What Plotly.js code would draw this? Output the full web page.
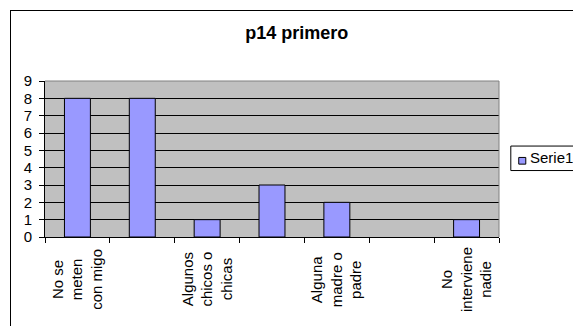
<!DOCTYPE html>
<html>
<head>
<meta charset="utf-8">
<script src="https://cdn.plot.ly/plotly-3.0.1.min.js"></script>
<style>
  html, body { margin: 0; padding: 0; background: #fff; overflow: hidden; }
  #wrap { position: relative; width: 573px; height: 326px; }
  #chart { width: 573px; height: 326px; }
  #frame { position: absolute; left: 10px; top: 10px; width: 620px; height: 400px;
           border: 1px solid #000; pointer-events: none; }
</style>
</head>
<body>
<div id="wrap">
  <div id="chart"></div>
  <div id="frame"></div>
</div>
<script>
const chartTitle = "p14 primero";
const seriesName = "Serie1";
const categories = [
  "No se<br>meten<br>con migo",
  "",
  "Algunos<br>chicos o<br>chicas",
  "",
  "Alguna<br>madre o<br>padre",
  "",
  "No<br>interviene<br>nadie"
];
const values = [8, 8, 1, 3, 2, 0, 1];
const yTicks = [0, 1, 2, 3, 4, 5, 6, 7, 8, 9];

const xPos = categories.map((c, i) => i + 1);
const boundaries = [];
for (let i = 0; i <= categories.length; i++) boundaries.push(i + 0.5);

const font = "Liberation Sans, Arial, sans-serif";
const barColor = "#9999FF";

const trace = {
  type: "bar",
  x: xPos,
  y: values,
  name: seriesName,
  width: 0.4,
  marker: {
    color: barColor,
    line: { color: "#000000", width: values.map(v => (v === 0 ? 0 : 1)) }
  },
  showlegend: false,
  hoverinfo: "none"
};

// plot area: x 45..499 px, y 81..237 px
const annotations = categories
  .map((c, i) => ({ c, i }))
  .filter(o => o.c !== "")
  .map(o => ({
    x: o.i + 1, xref: "x",
    y: -0.272, yref: "paper",
    text: o.c,
    textangle: -90,
    showarrow: false,
    xanchor: "center", yanchor: "middle",
    align: "center",
    font: { family: font, size: 15, color: "#000" }
  }));

// custom legend (box, swatch, label)
annotations.push({
  x: 1.063, xref: "paper", xanchor: "left",
  y: 0.51, yref: "paper", yanchor: "middle",
  text: seriesName, showarrow: false,
  font: { family: font, size: 15, color: "#000" }
});

const layout = {
  width: 573, height: 326,
  margin: { l: 45, r: 74, t: 81, b: 89, autoexpand: false },
  paper_bgcolor: "#ffffff",
  plot_bgcolor: "#C0C0C0",
  showlegend: false,
  title: {
    text: "<b>" + chartTitle + "</b>",
    font: { family: font, size: 18, color: "#000" },
    xref: "container", x: 0.518, xanchor: "center",
    yref: "container", y: 0.899, yanchor: "middle"
  },
  xaxis: {
    range: [0.5, categories.length + 0.5],
    tickmode: "array",
    tickvals: boundaries,
    ticktext: boundaries.map(() => ""),
    showticklabels: false,
    ticks: "outside", ticklen: 5, tickcolor: "#000", tickwidth: 1,
    showgrid: false, zeroline: false,
    showline: true, linecolor: "#000", linewidth: 1,
    fixedrange: true
  },
  yaxis: {
    range: [0, 9],
    tickmode: "array",
    tickvals: yTicks,
    ticktext: yTicks.map(String),
    ticks: "outside", ticklen: 5, tickcolor: "#000", tickwidth: 1,
    ticklabelstandoff: 4,
    tickfont: { family: font, size: 15, color: "#000" },
    showgrid: true, gridcolor: "#000", gridwidth: 1,
    zeroline: false,
    showline: true, linecolor: "#000", linewidth: 1,
    fixedrange: true
  },
  shapes: [
    { type: "line", xref: "paper", yref: "paper", x0: 0, x1: 1, y0: 1, y1: 1,
      line: { color: "#808080", width: 1 }, layer: "above" },
    { type: "line", xref: "paper", yref: "paper", x0: 1, x1: 1, y0: 0, y1: 1,
      line: { color: "#808080", width: 1 }, layer: "above" },
    // legend box
    { type: "rect", xref: "paper", yref: "paper",
      x0: 1.026, x1: 1.25, y0: 0.426, y1: 0.583,
      fillcolor: "#ffffff", line: { color: "#000", width: 1 }, layer: "above" },
    // legend swatch
    { type: "rect", xref: "paper", yref: "paper",
      x0: 1.0435, x1: 1.059, y0: 0.467, y1: 0.51,
      fillcolor: barColor, line: { color: "#000", width: 1 }, layer: "above" }
  ],
  annotations: annotations
};

Plotly.newPlot("chart", [trace], layout, { staticPlot: true, displayModeBar: false });
</script>
</body>
</html>
